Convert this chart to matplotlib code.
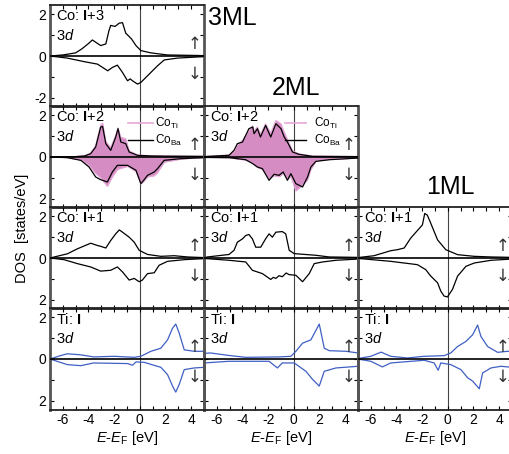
import matplotlib
matplotlib.use("Agg")
import matplotlib.pyplot as plt
from matplotlib.ticker import MultipleLocator, FixedLocator, FixedFormatter

plt.rcParams['font.family'] = ['Liberation Sans', 'DejaVu Sans']
plt.rcParams['mathtext.fontset'] = 'custom'
plt.rcParams['mathtext.rm'] = 'Liberation Sans'
plt.rcParams['mathtext.it'] = 'Liberation Sans:italic'
plt.rcParams['mathtext.bf'] = 'Liberation Sans:bold'

# ---------------- data (energy in eV, DOS in states/eV) ----------------
# 3ML, Co I+3
e3_co3_up = [-7, -6, -5, -4.5, -4, -3.7, -3.05, -2.65, -2.4, -2.27, -1.93, -1.6, -1.35, -1.1, -0.65, -0.3, 0.08, 0.86, 2.16, 5]
d3_co3_up = [0, 0.05, 0.15, 0.35, 0.6, 0.77, 0.5, 0.58, 1.23, 1.47, 1.42, 1.58, 1.6, 1.1, 0.82, 0.5, 0.26, 0.15, 0.05, 0.02]
e3_co3_dn = [-7, -5.65, -4.35, -3.3, -2.5, -2.14, -1.75, -1.35, -0.96, -0.75, -0.57, -0.18, 0.08, 0.6, 1.38, 1.9, 2.94, 5]
d3_co3_dn = [0, -0.1, -0.27, -0.39, -0.71, -0.55, -0.44, -0.79, -1.19, -1.1, -1.19, -1.35, -1.27, -0.95, -0.47, -0.19, -0.1, -0.03]

# 3ML, Co I+2 (Co_Ba black, Co_Ti pink)
e3_co2_up = [-7, -5, -4.3, -3.83, -3.44, -3.05, -2.9, -2.65, -2.27, -1.88, -1.7, -1.48, -1.1, -0.83, -0.18, 0.86, 2, 5]
d3_co2ba_up = [0, 0.02, 0.05, 0.16, 0.48, 1.44, 1.47, 0.64, 0.32, 0.96, 1.36, 0.72, 0.64, 0.24, 0.08, 0.05, 0.04, 0.03]
d3_co2ti_up = [0, 0.02, 0.06, 0.2, 0.55, 1.55, 1.63, 0.75, 0.45, 1.05, 1.4, 0.95, 0.88, 0.3, 0.1, 0.06, 0.05, 0.03]
e3_co2_dn = [-7, -5.65, -4.6, -3.96, -3.44, -3.05, -2.53, -2.14, -1.75, -0.96, -0.3, 0.08, 0.34, 0.6, 1.12, 1.38, 1.9, 3.2, 5]
d3_co2ba_dn = [0, -0.03, -0.16, -0.48, -0.96, -1.09, -1.2, -0.72, -0.4, -0.4, -0.64, -1.28, -1.09, -0.88, -0.72, -0.56, -0.16, -0.08, -0.03]
d3_co2ti_dn = [0, -0.03, -0.15, -0.4, -0.8, -1.0, -1.41, -0.95, -0.6, -0.45, -0.7, -1.3, -1.15, -0.96, -0.9, -0.75, -0.25, -0.1, -0.03]

# 3ML, Co I+1
e3_co1_up = [-7, -5.65, -4.87, -3.83, -3.3, -3.05, -2.65, -2.27, -1.88, -1.6, -1.35, -0.83, -0.44, -0.05, 0.6, 1.64, 2.68, 3.72, 5]
d3_co1_up = [0, 0.2, 0.44, 0.71, 0.6, 0.56, 0.48, 0.84, 1.16, 1.35, 1.24, 1.0, 0.76, 0.37, 0.17, 0.08, 0.11, 0.05, 0.02]
e3_co1_dn = [-7, -5.9, -4.87, -3.83, -3.05, -2.27, -1.75, -1.35, -0.83, -0.44, -0.05, 0.2, 0.6, 1.12, 1.5, 2.16, 3.46, 5]
d3_co1_dn = [0, -0.08, -0.27, -0.43, -0.63, -0.59, -0.43, -0.67, -1.06, -0.98, -1.14, -1.06, -0.75, -0.71, -0.35, -0.16, -0.08, -0.03]

# 3ML, Ti I
e3_ti_up = [-7, -6.2, -5.65, -4.6, -3.6, -2, -0.44, 0.08, 0.86, 1.64, 2.16, 2.55, 2.8, 3.07, 3.46, 4.24, 5]
d3_ti_up = [0, 0.16, 0.25, 0.2, 0.1, 0.13, 0.08, 0.13, 0.37, 0.52, 0.92, 1.48, 1.68, 1.24, 0.44, 0.37, 0.37]
e3_ti_dn = [-7, -5.65, -4.6, -3.6, -0.96, -0.57, -0.3, 0.34, 1.64, 2.16, 2.55, 2.8, 3.07, 3.46, 4.24, 5]
d3_ti_dn = [0, -0.27, -0.32, -0.19, -0.22, -0.3, -0.14, -0.16, -0.4, -0.75, -1.3, -1.59, -1.22, -0.51, -0.43, -0.4]

# 2ML, Co I+2
e2_co2_up = [-7, -5.05, -4.66, -4.4, -4, -3.5, -3.2, -3.1, -2.84, -2.6, -2.2, -1.8, -1.4, -1.0, -0.75, -0.5, -0.1, 0.4, 1.46, 5]
d2_co2ba_up = [0.02, 0.08, 0.32, 0.64, 0.72, 1.36, 1.44, 1.12, 1.36, 0.96, 1.52, 0.96, 1.6, 1.36, 0.96, 0.72, 0.24, 0.13, 0.03, 0.02]
d2_co2ti_up = [0.02, 0.1, 0.3, 0.6, 0.8, 1.3, 1.5, 1.25, 1.45, 1.1, 1.6, 1.15, 1.76, 1.6, 1.2, 0.85, 0.3, 0.15, 0.05, 0.02]
e2_co2_dn = [-7, -5.05, -3.75, -3.2, -2.84, -2.45, -1.93, -1.54, -1.15, -0.83, -0.5, -0.23, 0.16, 0.68, 1.07, 1.33, 1.72, 2.76, 5]
d2_co2ba_dn = [-0.02, -0.03, -0.13, -0.32, -0.48, -0.56, -1.12, -0.83, -0.88, -0.72, -1.12, -0.8, -1.28, -1.44, -0.96, -0.48, -0.21, -0.13, -0.05]
d2_co2ti_dn = [-0.02, -0.04, -0.15, -0.3, -0.5, -0.6, -1.05, -0.9, -0.95, -0.8, -1.05, -0.95, -1.63, -1.35, -1.1, -0.6, -0.2, -0.12, -0.05]

# 2ML, Co I+1
e2_co1_up = [-7, -5.05, -4.66, -4.4, -4, -3.75, -3.5, -3.23, -2.97, -2.58, -2.2, -1.93, -1.67, -1.4, -0.9, -0.63, -0.36, 0.03, 1.72, 2.76, 5]
d2_co1_up = [0.03, 0.17, 0.37, 0.76, 0.92, 1.08, 1.13, 0.92, 0.52, 0.52, 0.92, 1.16, 1.0, 1.24, 1.27, 1.16, 0.37, 0.21, 0.13, 0.05, 0.03]
e2_co1_dn = [-7, -5.05, -3.75, -3.23, -2.45, -1.8, -1.6, -1.4, -1.15, -0.9, -0.6, -0.36, 0.16, 0.68, 1.2, 1.59, 2.24, 3.28, 5]
d2_co1_dn = [-0.02, -0.11, -0.19, -0.59, -0.75, -1.03, -0.93, -0.98, -0.85, -0.9, -0.72, -0.8, -0.83, -1.14, -0.75, -0.27, -0.19, -0.11, -0.05]

# 2ML, Ti I
e2_ti_up = [-7, -6.5, -5.05, -3.75, -1.15, -0.23, 0.16, 0.68, 1.33, 1.98, 2.37, 2.76, 4.06, 5]
d2_ti_up = [0.27, 0.29, 0.17, 0.08, 0.1, 0.13, 0.37, 0.76, 0.92, 1.68, 0.52, 0.4, 0.37, 0.29]
e2_ti_dn = [-7, -5.05, -1.93, -1.28, -0.9, 0.03, 0.94, 1.46, 1.98, 2.37, 3.28, 5]
d2_ti_dn = [-0.19, -0.11, -0.11, -0.43, -0.19, -0.19, -0.59, -0.98, -1.3, -0.59, -0.43, -0.35]

# 1ML, Co I+1
e1_co1_up = [-7, -5.75, -4.45, -3.93, -3.4, -2.9, -2.37, -1.98, -1.8, -1.6, -1.33, -0.8, -0.16, 0.76, 2.06, 3.36, 5]
d1_co1_up = [0.02, 0.11, 0.35, 0.4, 0.48, 0.95, 1.32, 1.59, 2.14, 2.06, 1.67, 0.87, 0.4, 0.16, 0.08, 0.05, 0.03]
e1_co1_dn = [-7, -4.45, -2.37, -1.72, -1.33, -0.8, -0.55, -0.29, -0.03, 0.36, 0.76, 1.41, 2.06, 3.36, 5]
d1_co1_dn = [-0.02, -0.16, -0.32, -0.56, -0.87, -1.19, -1.59, -1.83, -1.87, -1.51, -0.87, -0.4, -0.24, -0.11, -0.05]

# 1ML, Ti I
e1_ti_up = [-7, -6.0, -5.2, -4.45, -3.15, -1.85, -0.29, 0.23, 0.76, 1.4, 1.93, 2.32, 2.58, 3.1, 3.88, 4.66, 5]
d1_ti_up = [0.02, 0.13, 0.33, 0.13, 0.05, 0.13, 0.16, 0.29, 0.6, 0.84, 1.16, 1.63, 1.08, 0.6, 0.32, 0.37, 0.35]
e1_ti_dn = [-7, -6.0, -5.1, -4.45, -1.85, -1.07, -0.75, -0.55, 0.23, 1.02, 1.54, 1.93, 2.45, 2.71, 3.36, 4.14, 5]
d1_ti_dn = [0, -0.11, -0.38, -0.19, -0.06, -0.19, -0.54, -0.19, -0.27, -0.51, -0.9, -1.06, -1.43, -0.67, -0.43, -0.35, -0.4]

x_ticks = [-6, -4, -2, 0, 2, 4]
y_ticks = [-2, 0, 2]
y_labels_top = ['-2', '0', '2']
y_labels_abs = ['2', '0', '2']
film_labels = ['3ML', '2ML', '1ML']

# ---------------- styling ----------------
PINK = '#d58cc3'
PINK_LINE = '#e4a8d8'
BLUE = '#3f5fc4'
W, H = 510, 454
fig = plt.figure(figsize=(W / 100, H / 100), dpi=100)

col_x = [50, 204, 358]
col_w = 154
row_y = [5, 106, 207, 308]   # top pixel
row_h = 102


def make_ax(col, row, first_col):
    x0 = col_x[col]
    y0 = row_y[row]
    ax = fig.add_axes([x0 / W, 1 - (y0 + row_h) / H, col_w / W, row_h / H])
    ax.set_xlim(-7, 5)
    ax.set_ylim(-2.45, 2.45)
    ax.xaxis.set_major_locator(FixedLocator(x_ticks))
    ax.xaxis.set_minor_locator(MultipleLocator(1))
    ax.yaxis.set_major_locator(FixedLocator(y_ticks))
    ax.yaxis.set_minor_locator(MultipleLocator(1))
    ax.tick_params(which='both', direction='in', top=True, right=True,
                   length=3, width=0.8, labelsize=10, pad=2.5, colors='black')
    if first_col:
        ax.yaxis.set_major_formatter(FixedFormatter(y_labels_top if row == 0 else y_labels_abs))
    else:
        ax.set_yticklabels([])
    if row == 3:
        ax.xaxis.set_major_formatter(FixedFormatter([str(t) for t in x_ticks]))
    else:
        ax.set_xticklabels([])
    for s in ['top', 'bottom']:
        ax.spines[s].set_linewidth(1.3)
        ax.spines[s].set_color('#222222')
    for s in ['left', 'right']:
        ax.spines[s].set_linewidth(2.0)
        ax.spines[s].set_color('#555555')
    ax.axhline(0, color='black', lw=1.2, zorder=4)
    ax.axvline(0, color='#444444', lw=0.8, zorder=1)
    ax.text(4.3, 0.6, '\u2191', ha='center', va='center', fontsize=12,
            family=['DejaVu Sans'], color='#333333')
    ax.text(4.3, -0.85, '\u2193', ha='center', va='center', fontsize=12,
            family=['DejaVu Sans'], color='#333333')
    ax.patch.set_alpha(0)
    return ax


def label(ax, site, layer):
    ax.text(-6.55, 1.9, site + r'$\mathbf{I}$' + layer, ha='left', va='center', fontsize=10.5, zorder=6)
    ax.text(-6.55, 1.0, r'3$\it{d}$', ha='left', va='center', fontsize=10.5, zorder=6)


def legend(ax, x0, x1, xt):
    ax.plot([x0, x1], [1.63, 1.63], color=PINK_LINE, lw=1.2)
    ax.plot([x0, x1], [0.8, 0.8], color='black', lw=1.0)
    ax.text(xt, 1.63, r'Co$_{\mathrm{Ti}}$', fontsize=8.5, va='center', ha='left')
    ax.text(xt, 0.8, r'Co$_{\mathrm{Ba}}$', fontsize=8.5, va='center', ha='left')


def co_pair(ax, e_up, ti_up, ba_up, e_dn, ti_dn, ba_dn):
    ax.fill_between(e_up, 0, ti_up, color=PINK, lw=0, zorder=2)
    ax.fill_between(e_dn, 0, ti_dn, color=PINK, lw=0, zorder=2)
    ax.plot(e_up, ti_up, color=PINK_LINE, lw=0.8, zorder=2)
    ax.plot(e_dn, ti_dn, color=PINK_LINE, lw=0.8, zorder=2)
    ax.plot(e_up, ba_up, color='black', lw=0.9, zorder=3)
    ax.plot(e_dn, ba_dn, color='black', lw=0.9, zorder=3)


# ---------- column 1 : 3ML ----------
ax = make_ax(0, 0, True)
ax.plot(e3_co3_up, d3_co3_up, color='black', lw=0.9)
ax.plot(e3_co3_dn, d3_co3_dn, color='black', lw=0.9)
label(ax, 'Co: ', '+3')

ax = make_ax(0, 1, True)
co_pair(ax, e3_co2_up, d3_co2ti_up, d3_co2ba_up, e3_co2_dn, d3_co2ti_dn, d3_co2ba_dn)
label(ax, 'Co: ', '+2')
legend(ax, -0.95, 1.0, 1.2)

ax = make_ax(0, 2, True)
ax.plot(e3_co1_up, d3_co1_up, color='black', lw=0.9)
ax.plot(e3_co1_dn, d3_co1_dn, color='black', lw=0.9)
label(ax, 'Co: ', '+1')

ax = make_ax(0, 3, True)
ax.plot(e3_ti_up, d3_ti_up, color=BLUE, lw=0.9)
ax.plot(e3_ti_dn, d3_ti_dn, color=BLUE, lw=0.9)
label(ax, 'Ti: ', '')

# ---------- column 2 : 2ML ----------
ax = make_ax(1, 1, False)
co_pair(ax, e2_co2_up, d2_co2ti_up, d2_co2ba_up, e2_co2_dn, d2_co2ti_dn, d2_co2ba_dn)
label(ax, 'Co: ', '+2')
legend(ax, -0.7, 0.95, 1.55)

ax = make_ax(1, 2, False)
ax.plot(e2_co1_up, d2_co1_up, color='black', lw=0.9)
ax.plot(e2_co1_dn, d2_co1_dn, color='black', lw=0.9)
label(ax, 'Co: ', '+1')

ax = make_ax(1, 3, False)
ax.plot(e2_ti_up, d2_ti_up, color=BLUE, lw=0.9)
ax.plot(e2_ti_dn, d2_ti_dn, color=BLUE, lw=0.9)
label(ax, 'Ti: ', '')

# ---------- column 3 : 1ML ----------
ax = make_ax(2, 2, False)
ax.plot(e1_co1_up, d1_co1_up, color='black', lw=0.9)
ax.plot(e1_co1_dn, d1_co1_dn, color='black', lw=0.9)
label(ax, 'Co: ', '+1')

ax = make_ax(2, 3, False)
ax.plot(e1_ti_up, d1_ti_up, color=BLUE, lw=0.9)
ax.plot(e1_ti_dn, d1_ti_dn, color=BLUE, lw=0.9)
label(ax, 'Ti: ', '')

# ---------- figure texts ----------
fig.text(232 / W, 1 - 18 / H, film_labels[0], fontsize=18, ha='center', va='center')
fig.text(296 / W, 1 - 88 / H, film_labels[1], fontsize=18, ha='center', va='center')
fig.text(450 / W, 1 - 187 / H, film_labels[2], fontsize=18, ha='center', va='center')
fig.text(22 / W, 1 - 228 / H, 'DOS  [states/eV]', rotation=90, fontsize=10.5,
         ha='center', va='center')
for c in range(3):
    fig.text((col_x[c] + col_w / 2) / W, 1 - 438 / H,
             r'$\it{E}$-$\it{E}_{\mathrm{F}}$ [eV]', fontsize=10.5, ha='center', va='center')

fig.savefig('out.png', dpi=100)
